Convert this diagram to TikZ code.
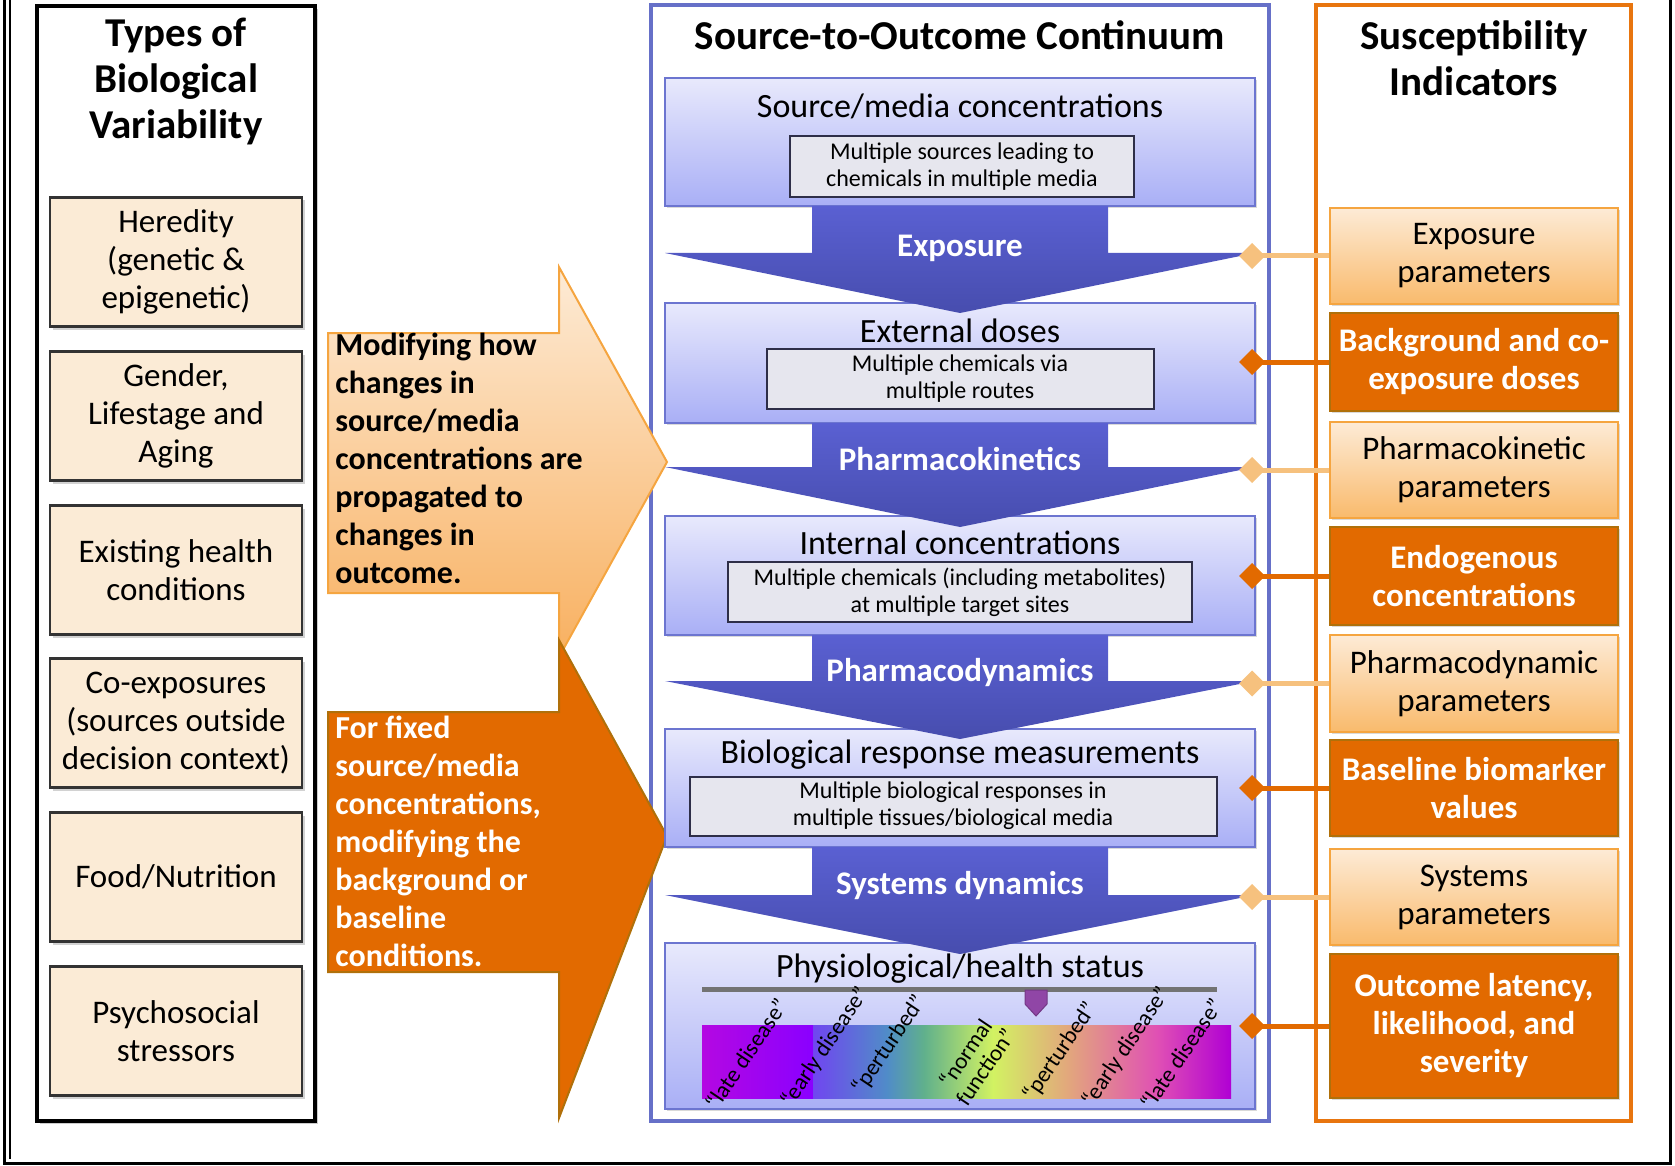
\documentclass[tikz,border=0pt]{standalone}
\usepackage{fontspec}
\setmainfont{Carlito}
\usetikzlibrary{arrows.meta,shadows,positioning}

\definecolor{beige}{HTML}{FBEBD6}
\definecolor{frameblue}{HTML}{6670C8}
\definecolor{stageborder}{HTML}{6C75D0}
\definecolor{stagetop}{HTML}{E8E9FC}
\definecolor{stagebottom}{HTML}{A9AFF6}
\definecolor{detailfill}{HTML}{E6E6EE}
\definecolor{detailborder}{HTML}{2E2E48}
\definecolor{flowtop}{HTML}{5A60D2}
\definecolor{flowbottom}{HTML}{474DAE}
\definecolor{frameorange}{HTML}{E8750E}
\definecolor{lighttop}{HTML}{FDEBD6}
\definecolor{lightbottom}{HTML}{F9BA6C}
\definecolor{lightborder}{HTML}{F5A540}
\definecolor{arrowbottom}{HTML}{F8B060}
\definecolor{darkorange}{HTML}{E26A00}
\definecolor{darkborder}{HTML}{B0700A}
\definecolor{lightlinkc}{HTML}{F6C17E}
\definecolor{marker}{HTML}{9046A6}

\begin{document}
\begin{tikzpicture}[x=0.5pt, y=-0.5pt,
  coltitle/.style={align=center, font=\bfseries\fontsize{20.5}{23}\selectfont},
  variability/.style={draw=black!80, line width=1.2pt, fill=beige,
    minimum width=126pt, minimum height=64.5pt, align=center,
    font=\fontsize{16.5}{19}\selectfont,
    drop shadow={shadow xshift=1.5pt, shadow yshift=-1.5pt, opacity=0.35}},
  stage/.style={draw=stageborder, line width=1pt, top color=stagetop,
    bottom color=stagebottom, minimum width=295pt,
    drop shadow={shadow xshift=1pt, shadow yshift=-1pt, opacity=0.3}},
  stagetitle/.style={font=\fontsize{17}{19}\selectfont},
  detail/.style={draw=detailborder, line width=1pt, fill=detailfill,
    align=center, inner sep=0pt, font=\fontsize{12}{13.5}\selectfont},
  flow/.style={top color=flowtop, bottom color=flowbottom},
  flowlabel/.style={text=white, font=\bfseries\fontsize{16.5}{19}\selectfont},
  indicator/.style={minimum width=144pt, align=center, line width=1pt,
    drop shadow={shadow xshift=1pt, shadow yshift=-1pt, opacity=0.3}},
  lightind/.style={indicator, draw=lightborder, top color=lighttop,
    bottom color=lightbottom, font=\fontsize{16.5}{19}\selectfont},
  darkind/.style={indicator, draw=darkborder, fill=darkorange, text=white,
    font=\bfseries\fontsize{16.5}{19}\selectfont},
  lightlink/.style={draw=lightlinkc, line width=2.5pt,
    -{Diamond[length=13pt, width=13pt]}},
  darklink/.style={draw=darkorange, line width=2.5pt,
    -{Diamond[length=13pt, width=13pt]}},
  statelabel/.style={rotate=56, align=center, inner sep=0pt,
    font=\fontsize{11.5}{12}\selectfont}
]
\useasboundingbox (0,0) rectangle (1675,1166);

% outer frame
\draw[line width=1.5pt] (4,-5) -- (4,1163) -- (1670,1163) -- (1670,-5);
\draw[line width=0.8pt] (10,-5) -- (10,1159);

% column frames
\draw[line width=1.8pt, drop shadow={shadow xshift=1.5pt, shadow yshift=-1.5pt, opacity=0.4}, fill=white]
  (37,6) rectangle (315,1121);
\draw[draw=frameblue, line width=2pt] (651,5) rectangle (1269,1121);
\draw[draw=frameorange, line width=2pt] (1316,5) rectangle (1631,1121);

\node[coltitle] (bvartitle) at (176,81) {Types of\\Biological\\Variability};
\node[coltitle] (sotitle) at (960,35) {Source-to-Outcome Continuum};
\node[coltitle] (sustitle) at (1474,58) {Susceptibility\\Indicators};

% types of variability
\node[variability] (heredity) at (176,262) {Heredity\\(genetic \&\\epigenetic)};
\node[variability] (gender) at (176,416) {Gender,\\Lifestage and\\Aging};
\node[variability] (health) at (176,570) {Existing health\\conditions};
\node[variability] (coexp) at (176,723) {Co-exposures\\(sources outside\\decision context)};
\node[variability] (food) at (176,877) {Food/Nutrition};
\node[variability] (psych) at (176,1031) {Psychosocial\\stressors};

% modifying arrows
\shade[top color=lighttop, bottom color=arrowbottom, draw=lightborder, line width=1pt]
  (328,333) -- (559,333) -- (559,267) -- (667,462) -- (559,657) -- (559,593)
  -- (328,593) -- cycle;
\filldraw[fill=darkorange, draw=darkborder, line width=1pt]
  (328,712) -- (559,712) -- (559,640) -- (667,836) -- (559,1118) -- (559,972)
  -- (328,972) -- cycle;
\node[anchor=north west, align=left, inner sep=0pt,
  font=\bfseries\fontsize{16}{19}\selectfont] (modtext) at (335,333)
  {Modifying how\\changes in\\source/media\\concentrations are\\propagated to\\changes in\\outcome.};
\node[anchor=north west, align=left, inner sep=0pt, text=white,
  font=\bfseries\fontsize{16}{19}\selectfont] (fixtext) at (335,716)
  {For fixed\\source/media\\concentrations,\\modifying the\\background or\\baseline\\conditions.};

% stages
\node[stage, minimum height=64pt] (media) at (960,142) {};
\node[stage, minimum height=60pt] (extdose) at (960,363) {};
\node[stage, minimum height=59.5pt] (intconc) at (960,575.5) {};
\node[stage, minimum height=59pt] (bioresp) at (960,788) {};
\node[stage, minimum height=83pt] (status) at (960,1026) {};

\node[stagetitle] (mediatitle) at (960,106) {Source/media concentrations};
\node[stagetitle] (extdosetitle) at (960,331) {External doses};
\node[stagetitle] (intconctitle) at (960,543) {Internal concentrations};
\node[stagetitle] (biorespttitle) at (960,755) {Biological response measurements};
\node[stagetitle] (statustitle) at (960,969) {Physiological/health status};

\node[detail, minimum width=172pt, minimum height=30.5pt] (mediadet) at (962,166.5)
  {Multiple sources leading to\\chemicals in multiple media};
\node[detail, minimum width=193.5pt, minimum height=30pt] (extdosedet) at (960,379)
  {Multiple chemicals via\\multiple routes};
\node[detail, minimum width=232pt, minimum height=30pt] (intconcdet) at (960,592)
  {Multiple chemicals (including metabolites)\\at multiple target sites};
\node[detail, minimum width=263.5pt, minimum height=29.5pt] (biorespdet) at (953,806)
  {Multiple biological responses in\\multiple tissues/biological media};

% transitions
\shade[flow] (812,206) -- (1108,206) -- (1108,253) -- (1255,253) -- (960,313)
  -- (665,253) -- (812,253) -- cycle;
\shade[flow] (812,423) -- (1108,423) -- (1108,467) -- (1255,467) -- (960,527)
  -- (665,467) -- (812,467) -- cycle;
\shade[flow] (812,635) -- (1108,635) -- (1108,681) -- (1255,681) -- (960,739)
  -- (665,681) -- (812,681) -- cycle;
\shade[flow] (812,847) -- (1108,847) -- (1108,895) -- (1255,895) -- (960,954)
  -- (665,895) -- (812,895) -- cycle;
\node[flowlabel] (exposure) at (960,248) {Exposure};
\node[flowlabel] (pk) at (960,459) {Pharmacokinetics};
\node[flowlabel] (pd) at (960,673) {Pharmacodynamics};
\node[flowlabel] (sysdyn) at (960,886) {Systems dynamics};

% health status scale
\shade[left color={rgb,255:red,180;green,8;blue,226}, right color={rgb,255:red,138;green,0;blue,255}]
  (702,1025) rectangle (813,1098);
\shade[left color={rgb,255:red,112;green,70;blue,240}, right color={rgb,255:red,80;green,140;blue,200}]
  (813,1025) rectangle (887,1098);
\shade[left color={rgb,255:red,80;green,140;blue,200}, right color={rgb,255:red,96;green,176;blue,140}]
  (887,1025) rectangle (924,1098);
\shade[left color={rgb,255:red,96;green,176;blue,140}, right color={rgb,255:red,210;green,242;blue,98}]
  (924,1025) rectangle (993,1098);
\shade[left color={rgb,255:red,210;green,242;blue,98}, right color={rgb,255:red,226;green,168;blue,124}]
  (993,1025) rectangle (1067,1098);
\shade[left color={rgb,255:red,226;green,168;blue,124}, right color={rgb,255:red,224;green,80;blue,180}]
  (1067,1025) rectangle (1157,1098);
\shade[left color={rgb,255:red,224;green,80;blue,180}, right color={rgb,255:red,176;green,0;blue,212}]
  (1157,1025) rectangle (1231,1098);
\draw[line width=2.5pt, black!55] (702,989) -- (1217,989);
\filldraw[fill=marker, draw=marker!80!black, line width=0.5pt]
  (1025,990) -- (1047,990) -- (1047,1004) -- (1036,1016) -- (1025,1004) -- cycle;

\node[statelabel] (late1) at (746,1054) {``late disease''};
\node[statelabel] (early1) at (825,1047) {``early disease''};
\node[statelabel] (pert1) at (889,1045) {``perturbed''};
\node[statelabel] (normal) at (975,1060) {``normal\\function''};
\node[statelabel] (pert2) at (1060,1052) {``perturbed''};
\node[statelabel] (early2) at (1126,1047) {``early disease''};
\node[statelabel] (late2) at (1181,1054) {``late disease''};

% susceptibility indicators
\node[lightind, minimum height=48pt] (expparam) at (1474,256) {Exposure\\parameters};
\node[darkind, minimum height=49pt] (bgdose) at (1474,362) {Background and co-\\exposure doses};
\node[lightind, minimum height=48pt] (pkparam) at (1474,470) {Pharmacokinetic\\parameters};
\node[darkind, minimum height=49pt] (endo) at (1474,576) {Endogenous\\concentrations};
\node[lightind, minimum height=48.5pt] (pdparam) at (1474,683.5) {Pharmacodynamic\\parameters};
\node[darkind, minimum height=48pt] (biomark) at (1474,788) {Baseline biomarker\\values};
\node[lightind, minimum height=48pt] (sysparam) at (1474,897) {Systems\\parameters};
\node[darkind, minimum height=72pt] (outcome) at (1474,1026) {Outcome latency,\\likelihood, and\\severity};

% links to the continuum
\coordinate (tipx) at (1239,0);
\draw[lightlink] (expparam.west) -- (expparam.west -| tipx);
\draw[darklink] (bgdose.west) -- (bgdose.west -| tipx);
\draw[lightlink] (pkparam.west) -- (pkparam.west -| tipx);
\draw[darklink] (endo.west) -- (endo.west -| tipx);
\draw[lightlink] (pdparam.west) -- (pdparam.west -| tipx);
\draw[darklink] (biomark.west) -- (biomark.west -| tipx);
\draw[lightlink] (sysparam.west) -- (sysparam.west -| tipx);
\draw[darklink] (outcome.west) -- (outcome.west -| tipx);

\end{tikzpicture}
\end{document}
